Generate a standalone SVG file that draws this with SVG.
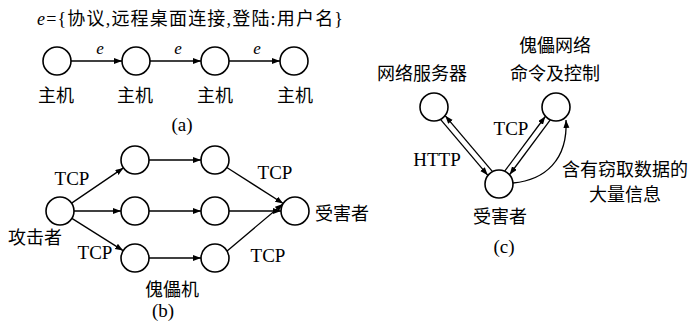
<svg xmlns="http://www.w3.org/2000/svg" width="693" height="325" viewBox="0 0 693 325">
<style>
text{font-family:"Liberation Serif","Noto Sans CJK SC",serif;fill:#000;}
.cn{font-size:18px;}
.lt{font-size:19px;}
.m{text-anchor:middle;}
circle{fill:#fff;stroke:#000;stroke-width:1.6;}
.e{stroke:#000;stroke-width:1.3;fill:none;marker-end:url(#ah);}
</style>
<defs>
<marker id="ah" markerUnits="userSpaceOnUse" markerWidth="9" markerHeight="7" refX="8" refY="3" orient="auto"><path d="M0,0 L8,3 L0,6 z" fill="#000"/></marker>
</defs>
<rect width="693" height="325" fill="#fff"/>
<g id="connectors">
<line class="e" x1="71" y1="61" x2="122" y2="61"/>
<line class="e" x1="150" y1="61" x2="201" y2="61"/>
<line class="e" x1="229" y1="61" x2="280" y2="61"/>
<line class="e" x1="71.6" y1="203.1" x2="123.4" y2="167.9"/>
<line class="e" x1="74" y1="211" x2="121" y2="211"/>
<line class="e" x1="71.9" y1="218.4" x2="123.1" y2="250.6"/>
<line class="e" x1="149" y1="160" x2="201" y2="160"/>
<line class="e" x1="149" y1="211" x2="201" y2="211"/>
<line class="e" x1="149" y1="258" x2="201" y2="258"/>
<line class="e" x1="226.8" y1="167.5" x2="283.2" y2="203.5"/>
<line class="e" x1="229" y1="211" x2="281" y2="211"/>
<line class="e" x1="227.1" y1="250.9" x2="282.9" y2="203.9"/>
<line class="e" x1="440.7" y1="119.6" x2="487.7" y2="175.2"/>
<line class="e" x1="492.3" y1="171.4" x2="445.3" y2="115.8"/>
<line class="e" x1="504.9" y1="170.9" x2="545.3" y2="116.5"/>
<line class="e" x1="550.1" y1="120.1" x2="509.7" y2="174.5"/>
<path class="e" d="M513,183 C545,180 568,160 566,120"/>
</g>
<g id="panel-a">
<text x="37" y="25" style="font-size:18px" textLength="306" lengthAdjust="spacing"><tspan font-style="italic">e</tspan>={协议,远程桌面连接,登陆:用户名}</text>
<g id="a1"><circle cx="57" cy="61" r="14"/><text class="cn m" x="56" y="102">主机</text></g>
<g id="a2"><circle cx="136" cy="61" r="14"/><text class="cn m" x="135" y="102">主机</text></g>
<g id="a3"><circle cx="215" cy="61" r="14"/><text class="cn m" x="215" y="102">主机</text></g>
<g id="a4"><circle cx="294" cy="61" r="14"/><text class="cn m" x="295" y="102">主机</text></g>
<text class="m" x="100" y="54" style="font-size:17px;font-style:italic">e</text>
<text class="m" x="178" y="54" style="font-size:17px;font-style:italic">e</text>
<text class="m" x="257" y="54" style="font-size:17px;font-style:italic">e</text>
<text class="lt m" x="182" y="131">(a)</text>
</g>
<g id="panel-b">
<g id="attacker"><circle cx="60" cy="211" r="14"/><text class="cn" x="8" y="244">攻击者</text></g>
<g id="b-t1"><circle cx="135" cy="160" r="14"/></g>
<g id="b-t2"><circle cx="215" cy="160" r="14"/></g>
<g id="b-m1"><circle cx="135" cy="211" r="14"/></g>
<g id="b-m2"><circle cx="215" cy="211" r="14"/></g>
<g id="b-b1"><circle cx="135" cy="258" r="14"/></g>
<g id="b-b2"><circle cx="215" cy="258" r="14"/></g>
<g id="victim-b"><circle cx="295" cy="211" r="14"/><text class="cn" x="315" y="220">受害者</text></g>
<text class="lt m" x="72" y="185">TCP</text>
<text class="lt m" x="275" y="179">TCP</text>
<text class="lt m" x="95" y="259">TCP</text>
<text class="lt m" x="268" y="262">TCP</text>
<text class="cn m" x="172" y="296">傀儡机</text>
<text class="lt m" x="163" y="317">(b)</text>
</g>
<g id="panel-c">
<g id="server"><circle cx="434" cy="107" r="14"/><text class="cn m" x="422" y="80">网络服务器</text></g>
<g id="cc"><circle cx="556" cy="107" r="14"/><text class="cn m" x="555" y="52">傀儡网络</text><text class="cn m" x="555" y="80">命令及控制</text></g>
<g id="victim-c"><circle cx="499" cy="184" r="14"/><text class="cn m" x="500" y="223">受害者</text></g>
<text class="lt m" x="437" y="166">HTTP</text>
<text class="lt m" x="511" y="135">TCP</text>
<text class="cn m" x="625" y="176">含有窃取数据的</text>
<text class="cn m" x="625" y="201">大量信息</text>
<text class="lt m" x="504" y="253">(c)</text>
</g>
</svg>
